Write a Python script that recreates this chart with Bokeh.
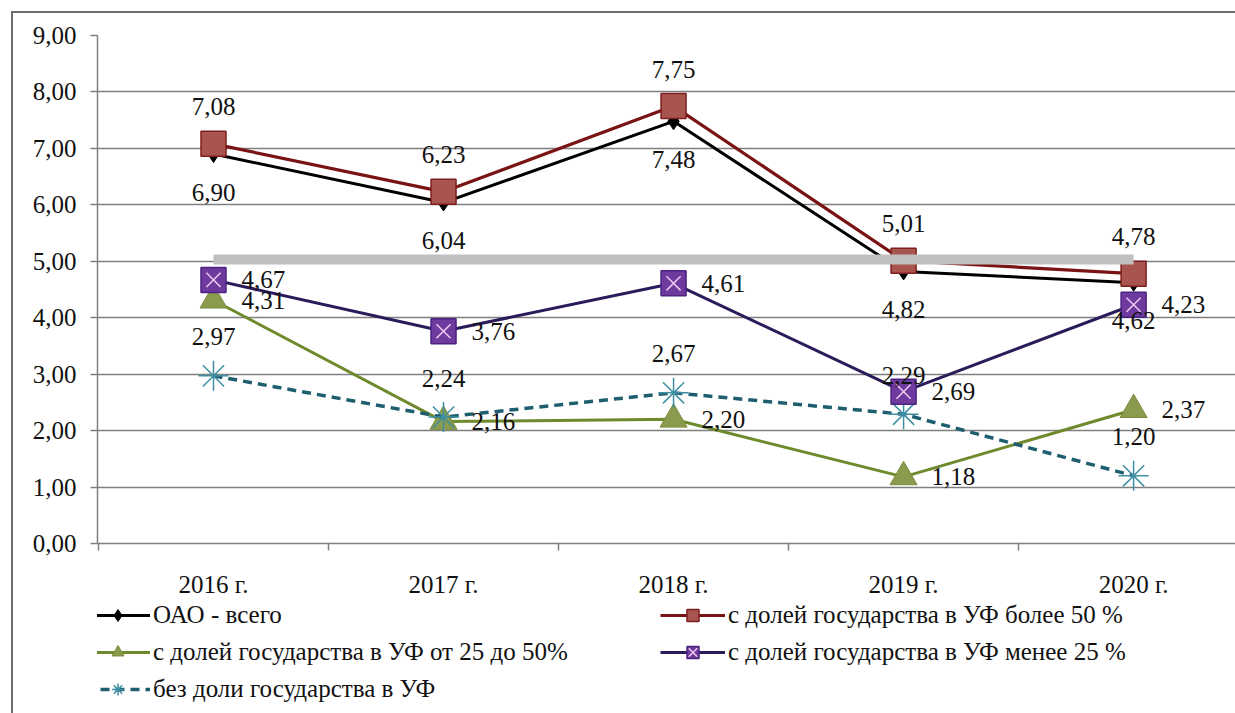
from bokeh.plotting import figure
from bokeh.layouts import column
from bokeh.models import (Range1d, FixedTicker, CustomJSTickFormatter, Legend,
                          LegendItem, ColumnDataSource)
from bokeh.core.properties import value
from bokeh.embed import file_html
from bokeh.resources import INLINE

years = ["2016 г.", "2017 г.", "2018 г.", "2019 г.", "2020 г."]
xpos = [0, 1, 2, 3, 4]
ser_total = [6.90, 6.04, 7.48, 4.82, 4.62]          # ОАО - всего
ser_over50 = [7.08, 6.23, 7.75, 5.01, 4.78]         # более 50 %
ser_25_50 = [4.31, 2.16, 2.20, 1.18, 2.37]          # от 25 до 50%
ser_under25 = [4.67, 3.76, 4.61, 2.69, 4.23]        # менее 25 %
ser_none = [2.97, 2.24, 2.67, 2.29, 1.20]           # без доли
ref_level = [5.03, 5.03, 5.03, 5.03, 5.03]          # grey band
names = ["ОАО - всего",
         "с долей государства в УФ более 50 %",
         "с долей государства в УФ от 25 до 50%",
         "с долей государства в УФ менее 25 %",
         "без доли государства в УФ"]

FONT = "Liberation Serif"
FS = "25px"
BORDER = "#6e6e6e"

p = figure(width=1235, height=600, output_backend="svg", toolbar_location=None,
           x_range=Range1d(-0.5043, 4.443), y_range=Range1d(0, 9),
           min_border_left=97, min_border_right=0, min_border_top=35,
           min_border_bottom=52)
p.background_fill_color = None
p.border_fill_color = None
p.outline_line_color = None

# axes
p.xaxis.ticker = FixedTicker(ticks=xpos, minor_ticks=[-0.5, 0.5, 1.5, 2.5, 3.5])
p.xaxis.major_label_overrides = {xv: yl for xv, yl in zip(xpos, years)}
p.xaxis.major_tick_out = 0
p.xaxis.major_tick_in = 0
p.xaxis.minor_tick_out = 7
p.xaxis.minor_tick_in = 0
p.xaxis.minor_tick_line_color = "#7f7f7f"
p.xaxis.minor_tick_line_width = 1.5
p.xaxis.major_label_standoff = 20
p.yaxis.ticker = FixedTicker(ticks=[0, 1, 2, 3, 4, 5, 6, 7, 8, 9])
p.yaxis.formatter = CustomJSTickFormatter(code="return tick.toFixed(2).replace('.', ',')")
p.yaxis.major_tick_out = 7
p.yaxis.major_tick_in = 0
p.yaxis.major_label_standoff = 14
for ax in (p.xaxis, p.yaxis):
    ax.axis_line_color = "#7f7f7f"
    ax.axis_line_width = 1.5
    ax.major_tick_line_color = "#7f7f7f"
    ax.major_tick_line_width = 1.5
    ax.major_label_text_font = FONT
    ax.major_label_text_font_size = FS
    ax.major_label_text_color = "#111111"
p.xgrid.grid_line_color = None
p.ygrid.grid_line_color = "#7f7f7f"
p.ygrid.grid_line_width = 1.5


def draw(fig, xs, total, over50, s25_50, under25, none, ref):
    r = {}
    r["tl"] = fig.line(xs, total, line_color="#000000", line_width=3)
    r["tm"] = fig.scatter(xs, total, marker="diamond", size=17, fill_color="#000000",
                          line_color="#000000")
    r["rl"] = fig.line(xs, over50, line_color="#7A1414", line_width=3.2)
    r["rm"] = fig.scatter(xs, over50, marker="square", size=25, fill_color="#A9554F",
                          line_color="#7E1E1E", line_width=1.5)
    if ref is not None:
        fig.line(xs, ref, line_color="#BFBFBF", line_width=10)
    r["gl"] = fig.line(xs, s25_50, line_color="#6F8A2C", line_width=3)
    r["gm"] = fig.scatter(xs, s25_50, marker="triangle", size=27, fill_color="#8A9B4E",
                          line_color="#7A8C3C", line_width=1)
    r["nl"] = fig.line(xs, none, line_color="#1F5E6E", line_width=3.5, line_dash="9 6")
    r["nm"] = fig.scatter(xs, none, marker="asterisk", size=30, line_color="#3E8FA3",
                          line_width=1.5)
    r["pl"] = fig.line(xs, under25, line_color="#2B1B5A", line_width=3)
    r["pm"] = fig.scatter(xs, under25, marker="square", size=25, fill_color="#6E3A9E",
                          line_color="#4B2380", line_width=1.5)
    r["px"] = fig.scatter(xs, under25, marker="x", size=20, line_color="#F2C9F0",
                          line_width=1.5)
    return r


draw(p, xpos, ser_total, ser_over50, ser_25_50, ser_under25, ser_none, ref_level)


def fmt(vals):
    return [f"{v:.2f}".replace(".", ",") for v in vals]


def labels(vals, dx, dy, align):
    src = ColumnDataSource(dict(x=xpos, y=vals, t=fmt(vals)))
    p.text("x", "y", text="t", source=src, x_offset=dx, y_offset=dy,
           text_align=align, text_baseline="middle", text_font=value(FONT),
           text_font_size=FS, text_color="#111111")


labels(ser_total, 0, 38, "center")
labels(ser_over50, 0, -37, "center")
labels(ser_25_50, 28, 0, "left")
labels(ser_under25, 28, 0, "left")
labels(ser_none, 0, -39, "center")

# legend panel (separate figure below the chart); its range hides the series,
# which are only used for the legend glyphs
lf = figure(width=1235, height=113, output_backend="svg", toolbar_location=None,
            x_range=Range1d(-0.5043, 4.443), y_range=Range1d(-10, -9),
            x_axis_type=None, y_axis_type=None,
            min_border_left=0, min_border_right=0, min_border_top=0, min_border_bottom=0)
lf.grid.visible = False
lf.background_fill_color = None
lf.border_fill_color = None
lf.outline_line_color = None
lr = draw(lf, xpos, ser_total, ser_over50, ser_25_50, ser_under25, ser_none, None)

# column-major fill: left column items 0, 2, 4; right column items 1, 3
legend = Legend(items=[
    LegendItem(label=names[0], renderers=[lr["tl"], lr["tm"]]),
    LegendItem(label=names[2], renderers=[lr["gl"], lr["gm"]]),
    LegendItem(label=names[4], renderers=[lr["nl"], lr["nm"]]),
    LegendItem(label=names[1], renderers=[lr["rl"], lr["rm"]]),
    LegendItem(label=names[3], renderers=[lr["pl"], lr["pm"], lr["px"]]),
], ncols=2, location=(-12, 9))
legend.border_line_color = None
legend.background_fill_alpha = 0
legend.padding = 0
legend.margin = 0
legend.spacing = 7
legend.glyph_width = 65
legend.glyph_height = 30
legend.label_standoff = 3
legend.label_width = 500
legend.label_text_font = FONT
legend.label_text_font_size = FS
legend.label_text_color = "#111111"
lf.add_layout(legend)

layout = column(p, lf, spacing=0)
layout.styles = {"background": f"linear-gradient({BORDER},{BORDER}) 11px 11px / 2px 100% no-repeat, "
                               f"linear-gradient({BORDER},{BORDER}) 11px 11px / 100% 2px no-repeat, #ffffff"}

open("out.html", "w").write(file_html(layout, INLINE))
